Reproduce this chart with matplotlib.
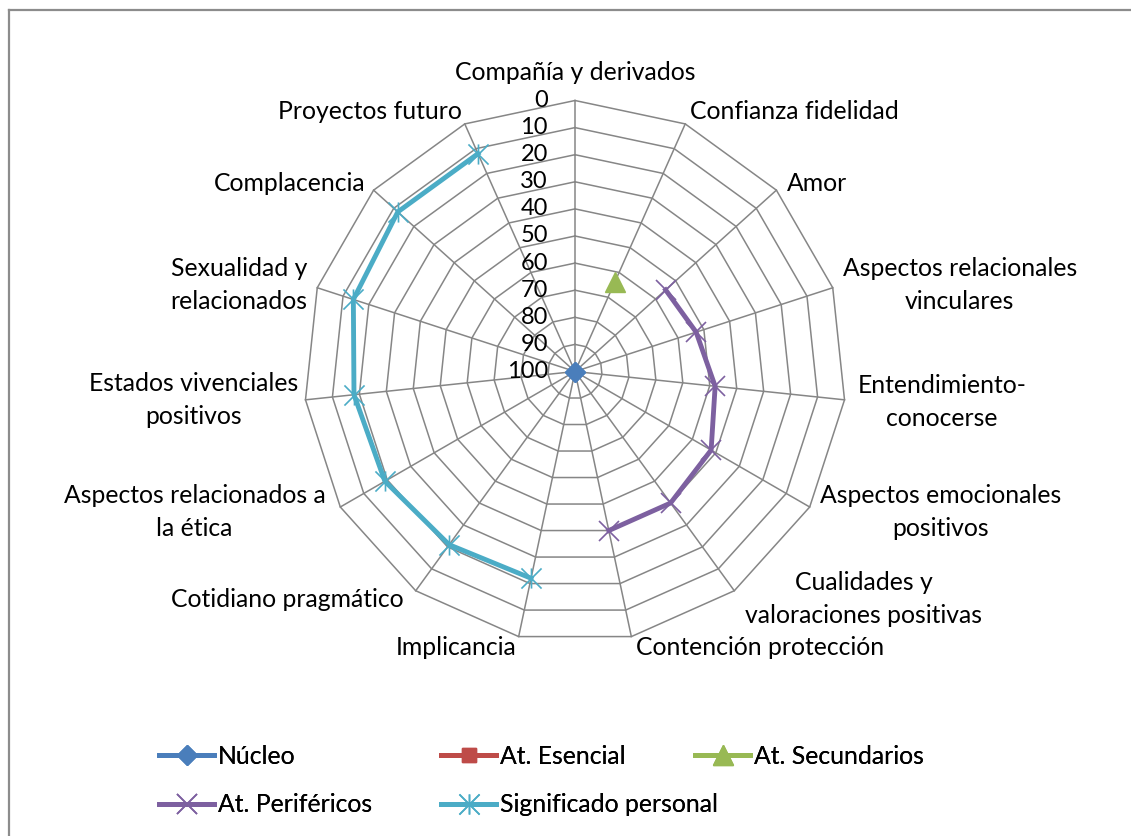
import numpy as np
import matplotlib
matplotlib.use("Agg")
import matplotlib.pyplot as plt
from matplotlib.path import Path
from matplotlib.lines import Line2D

nan = np.nan
categories = [
    "Compañía y derivados", "Confianza fidelidad", "Amor",
    "Aspectos relacionales\nvinculares", "Entendimiento-\nconocerse",
    "Aspectos emocionales\npositivos", "Cualidades y\nvaloraciones positivas",
    "Contención protección", "Implicancia", "Cotidiano pragmático",
    "Aspectos relacionados a\nla ética", "Estados vivenciales\npositivos",
    "Sexualidad y\nrelacionados", "Complacencia", "Proyectos futuro",
]
nucleo      = [100, nan, nan, nan, nan, nan, nan, nan, nan, nan, nan, nan, nan, nan, nan]
esencial    = [nan, nan, nan, nan, nan, nan, nan, nan, nan, nan, nan, nan, nan, nan, nan]
secundarios = [nan, 64, nan, nan, nan, nan, nan, nan, nan, nan, nan, nan, nan, nan, nan]
perifericos = [nan, nan, 55, 53, 48, 42, 40, 40, nan, nan, nan, nan, nan, nan, nan]
significado = [nan, nan, nan, nan, nan, nan, nan, nan, 22, 21, 19, 18, 14, 12, 12]
series_names = ["Núcleo", "At. Esencial", "At. Secundarios", "At. Periféricos", "Significado personal"]
tick_values = [0, 10, 20, 30, 40, 50, 60, 70, 80, 90, 100]

FONT = "Lato"
FS = 17.8
FS_TICK = 17.0
FS_LEG = 17.8
plt.rcParams["font.family"] = [FONT, "DejaVu Sans"]

W, H = 1131, 836
fig = plt.figure(figsize=(W / 100, H / 100), dpi=100)

cx, cy, R = 575, 371.5, 271
ax = fig.add_axes([(cx - R) / W, (H - cy - R) / H, 2 * R / W, 2 * R / H], projection="polar")
ax.set_theta_zero_location("N")
ax.set_theta_direction(-1)
ax.set_ylim(100, 0)
ax.grid(False)
ax.set_xticks([])
ax.set_yticks([])
ax.spines["polar"].set_visible(False)
ax.patch.set_visible(False)

n = len(categories)
theta = np.arange(n) * 2 * np.pi / n
theta_closed = np.append(theta, theta[0])

gc = "#868686"
for lv in tick_values[:-1]:
    ax.plot(theta_closed, [lv] * (n + 1), color=gc, lw=1.1, clip_on=False, zorder=1)
for t in theta:
    ax.plot([t, t], [100, 0], color=gc, lw=1.1, clip_on=False, zorder=1)

# tick labels
for lv in tick_values:
    ax.annotate(str(lv), xy=(0, lv), xytext=(-27 * 0.72, 0), textcoords="offset points",
                ha="right", va="center", fontsize=FS_TICK, color="black")

# category labels: (ha, dx_px, dy_px)
label_pos = [
    ("center", 0, 28), ("left", 5, 12), ("left", 11, 7), ("left", 10, 3),
    ("left", 13, -2), ("left", 10, -5), ("left", 11, -8), ("left", 5, -11),
    ("right", -2, -11), ("right", -12, -9), ("right", -15, -5), ("right", -7, 0),
    ("right", -10, 3), ("right", -8, 7), ("right", -3, 12),
]
for t, lab, (ha, dx, dy) in zip(theta, categories, label_pos):
    ax.annotate(lab, xy=(t, 0), xytext=(dx * 0.72, dy * 0.72), textcoords="offset points",
                ha=ha, va="center", multialignment="center", fontsize=FS,
                linespacing=1.55, color="black", annotation_clip=False)

asterisk = Path([(0, -0.5), (0, 0.5), (-0.5, -0.5), (0.5, 0.5), (-0.5, 0.5), (0.5, -0.5)],
                [Path.MOVETO, Path.LINETO, Path.MOVETO, Path.LINETO, Path.MOVETO, Path.LINETO])

styles = [
    dict(color="#4A7EBB", marker="D", ms=10.5),
    dict(color="#BE4B48", marker="s", ms=9.5),
    dict(color="#98B954", marker="^", ms=15),
    dict(color="#7D60A0", marker="x", ms=14.5, mew=1.2),
    dict(color="#4BACC6", marker=asterisk, ms=14.5, mew=1.2),
]
data = [nucleo, esencial, secundarios, perifericos, significado]
handles = []
for vals, st, name in zip(data, styles, series_names):
    v = np.append(vals, vals[0])
    (h,) = ax.plot(theta_closed, v, color=st["color"], lw=3.5, marker=st["marker"],
                   ms=st["ms"], mew=st.get("mew", 1), mec=st["color"], mfc=st["color"],
                   label=name, clip_on=False, zorder=3)
    handles.append(h)

# legend, one entry per position
leg_pos = [(159, 756), (441, 756), (695, 756), (159, 805), (441, 805)]
for h, (lx, ly) in zip(handles, leg_pos):
    lh = Line2D([], [], color=h.get_color(), lw=3.5, marker=h.get_marker(),
                ms=h.get_markersize(), mew=h.get_markeredgewidth(),
                mec=h.get_color(), mfc=h.get_color())
    lg = fig.legend([lh], [h.get_label()], loc="center left", bbox_to_anchor=(lx / W, 1 - ly / H),
                    frameon=False, fontsize=FS_LEG, handlelength=55 / (FS_LEG / 0.72),
                    handletextpad=0.15, borderpad=0, borderaxespad=0)
    fig.add_artist(lg)

# outer frame (partially visible)
fc = "#8c8c8c"
fig.add_artist(Line2D([8.5 / W, 8.5 / W], [0, 1 - 10 / H], color=fc, lw=1.6))
fig.add_artist(Line2D([8.5 / W, 1], [1 - 10 / H, 1 - 10 / H], color=fc, lw=1.6))

fig.savefig("out.png", dpi=100)
